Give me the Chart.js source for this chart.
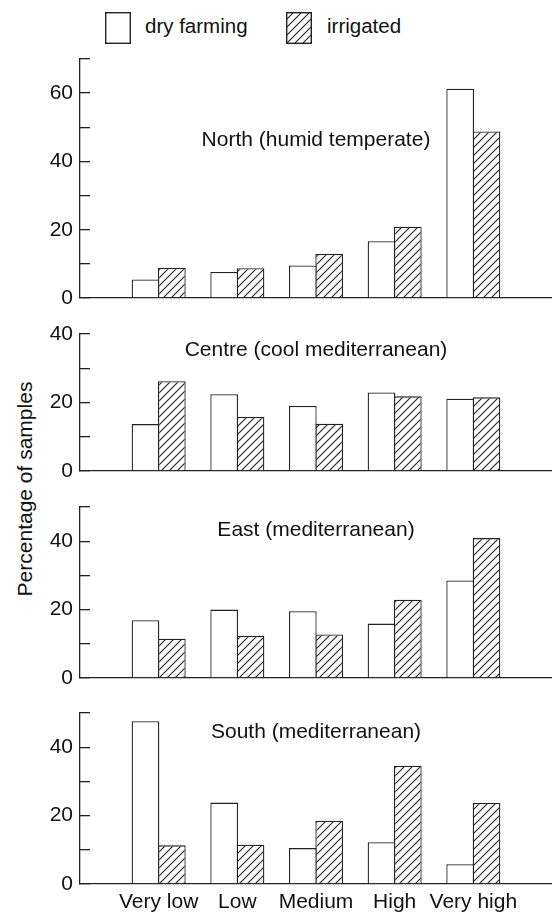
<!DOCTYPE html>
<html>
<head>
<meta charset="utf-8">
<script src="https://cdn.jsdelivr.net/npm/chart.js@4"></script>
<style>
html,body{margin:0;padding:0;background:#fff;overflow:hidden;width:552px;height:913px;}
#wrap{position:relative;width:552px;height:913px;overflow:hidden;font-family:"Liberation Sans",Arial,sans-serif;color:#111;}
canvas.panel{position:absolute;left:0;}
canvas.sw{position:absolute;}
.lg{position:absolute;font-size:20.5px;line-height:24px;white-space:nowrap;}
#ytitle{position:absolute;left:25px;top:489px;transform:translate(-50%,-50%) rotate(-90deg);font-size:21px;line-height:24px;white-space:nowrap;}
</style>
</head>
<body>
<div id="wrap">
  <canvas id="sw0" class="sw" width="26" height="32" style="left:105px;top:12px"></canvas>
  <div id="lg0" class="lg" style="left:145px;top:14px"></div>
  <canvas id="sw1" class="sw" width="26" height="32" style="left:286px;top:12px"></canvas>
  <div id="lg1" class="lg" style="left:327px;top:14px"></div>
  <div id="ytitle"></div>
</div>
<script>
// ---- data ----
const categories = ['Very low', 'Low', 'Medium', 'High', 'Very high'];
const seriesNames = ['dry farming', 'irrigated'];
const panelTitles = ['North (humid temperate)', 'Centre (cool mediterranean)', 'East (mediterranean)', 'South (mediterranean)'];
const yAxisTitle = 'Percentage of samples';

const northDry  = [5.4, 7.6, 9.5, 16.6, 61.3];
const northIrr  = [8.8, 8.7, 12.9, 20.9, 48.8];
const centreDry = [13.7, 22.4, 19.0, 22.9, 21.1];
const centreIrr = [26.2, 15.8, 13.8, 21.8, 21.5];
const eastDry   = [16.9, 20.0, 19.5, 15.9, 28.5];
const eastIrr   = [11.5, 12.3, 12.7, 22.9, 40.9];
const southDry  = [47.6, 23.8, 10.5, 12.2, 5.8];
const southIrr  = [11.3, 11.5, 18.5, 34.6, 23.7];

const yMaxes = [70, 40, 50, 50];
const tickStep = 10;
const labelEvery = 20;

// ---- layout (pixels) ----
const padTop = 30;
const padBottom = 30;
const panelLayout = [
  { areaTop: 59,  areaH: 239, titleDy: 81 },
  { areaTop: 334, areaH: 137, titleDy: 16 },
  { areaTop: 507, areaH: 171, titleDy: 23 },
  { areaTop: 713, areaH: 171, titleDy: 19 }
];
const dryByPanel = [northDry, centreDry, eastDry, southDry];
const irrByPanel = [northIrr, centreIrr, eastIrr, southIrr];

const INK = '#222';
const TXT = '#111';
const FONT_FAMILY = '"Liberation Sans", Arial, sans-serif';
const tickFont = { family: FONT_FAMILY, size: 21 };
const xFont = { family: FONT_FAMILY, size: 21, lineHeight: 1.75 };

function hatchTile() {
  const c = document.createElement('canvas');
  c.width = 8; c.height = 8;
  const g = c.getContext('2d');
  g.fillStyle = '#fff'; g.fillRect(0, 0, 8, 8);
  g.strokeStyle = INK; g.lineWidth = 1.1; g.lineCap = 'square';
  g.beginPath();
  g.moveTo(-2, 10); g.lineTo(10, -2);
  g.moveTo(-2, 2); g.lineTo(2, -2);
  g.moveTo(6, 10); g.lineTo(10, 6);
  g.stroke();
  return c;
}

// legend
document.getElementById('lg0').textContent = seriesNames[0];
document.getElementById('lg1').textContent = seriesNames[1];
document.getElementById('ytitle').textContent = yAxisTitle;
['sw0', 'sw1'].forEach((id, k) => {
  const c = document.getElementById(id);
  const g = c.getContext('2d');
  g.fillStyle = k === 0 ? '#fff' : g.createPattern(hatchTile(), 'repeat');
  g.fillRect(0, 0, c.width, c.height);
  g.strokeStyle = INK; g.lineWidth = 1.4;
  g.strokeRect(0.7, 0.7, c.width - 1.4, c.height - 1.4);
});

const titlePlugin = {
  id: 'panelTitle',
  afterDatasetsDraw(chart, args, opts) {
    const { ctx, chartArea } = chart;
    ctx.save();
    ctx.font = '21px ' + FONT_FAMILY;
    ctx.fillStyle = TXT;
    ctx.textAlign = 'center';
    ctx.textBaseline = 'middle';
    ctx.fillText(opts.text, (chartArea.left + chartArea.right) / 2, chartArea.top + opts.dy);
    ctx.restore();
  }
};

const wrap = document.getElementById('wrap');
panelLayout.forEach((p, i) => {
  const cv = document.createElement('canvas');
  cv.className = 'panel';
  cv.width = 552;
  cv.height = p.areaH + padTop + padBottom;
  cv.style.top = (p.areaTop - padTop) + 'px';
  wrap.appendChild(cv);
  const ctx = cv.getContext('2d');
  const pat = ctx.createPattern(hatchTile(), 'repeat');
  const isBottom = i === panelLayout.length - 1;

  new Chart(ctx, {
    type: 'bar',
    data: {
      labels: ['', ...categories, ''],
      datasets: [
        { label: seriesNames[0], data: [null, ...dryByPanel[i], null],
          backgroundColor: '#fff', borderColor: INK, borderWidth: 1.3, borderSkipped: 'bottom' },
        { label: seriesNames[1], data: [null, ...irrByPanel[i], null],
          backgroundColor: pat, borderColor: INK, borderWidth: 1.3, borderSkipped: 'bottom' }
      ]
    },
    options: {
      responsive: false,
      maintainAspectRatio: false,
      animation: false,
      devicePixelRatio: 1,
      events: [],
      layout: { padding: { top: padTop, left: 0, right: 0, bottom: 0 } },
      datasets: { bar: { categoryPercentage: 0.67, barPercentage: 1.05 } },
      plugins: {
        legend: { display: false },
        tooltip: { enabled: false },
        title: { display: false },
        panelTitle: { text: panelTitles[i], dy: p.titleDy }
      },
      scales: {
        x: {
          offset: false,
          grid: { display: false, drawTicks: false },
          border: { display: true, color: INK, width: 1.3 },
          ticks: { display: isBottom, padding: 0, font: xFont, color: TXT, autoSkip: false, maxRotation: 0 },
          afterFit: s => { s.height = padBottom; }
        },
        y: {
          min: 0,
          max: yMaxes[i],
          grid: { drawOnChartArea: false, drawTicks: true, tickLength: -10, color: INK, lineWidth: 1.3 },
          border: { display: true, color: INK, width: 1.3 },
          ticks: { stepSize: tickStep, padding: 17, font: tickFont, color: TXT,
                   callback: v => (v % labelEvery === 0 ? v : '') },
          afterFit: s => { s.width = 80; }
        }
      }
    },
    plugins: [titlePlugin]
  });
});
</script>
</body>
</html>
